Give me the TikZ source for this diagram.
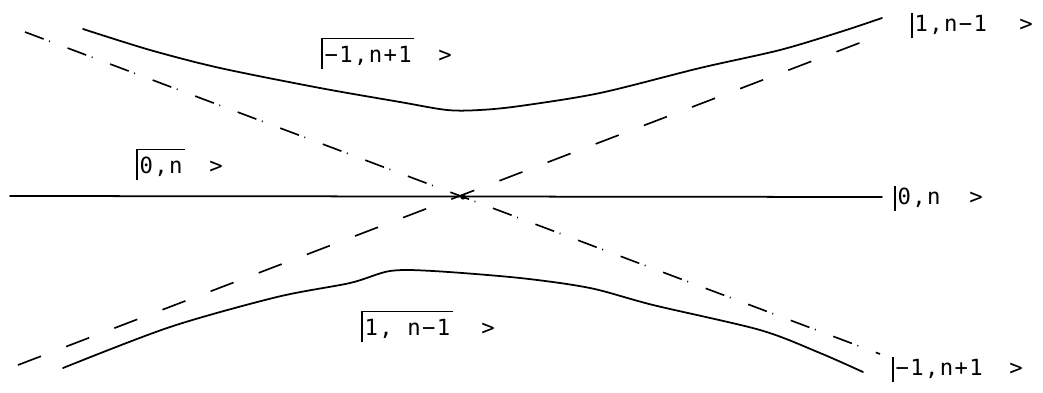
\documentclass[tikz,border=0pt]{standalone}
\usepackage{fontspec}
\newfontfamily\ketfont{DejaVu Sans Mono}[LetterSpace=6]
\tikzset{
  ket/.style={font=\ketfont\fontsize{19}{22}\selectfont, inner xsep=2pt, inner ysep=0pt,
    text height=15pt, text depth=6pt, anchor=base west},
  ketov/.style={ket, text height=20pt},
  closer/.style={font=\ketfont\fontsize{19}{22}\selectfont, inner sep=0pt, anchor=base},
  kbar/.style={line width=1.1pt},
  level/.style={line width=1.5pt, line cap=round},
  diab/.style={line width=1.4pt, dash pattern=on 21pt off 23pt},
  diabdot/.style={line width=1.4pt, dash pattern=on 17pt off 5pt on 0.8pt off 16pt},
}
\begin{document}
\begin{tikzpicture}[x=0.03cm, y=-0.03cm]
    \useasboundingbox (0,0) rectangle (1043,392);
    % Enden der Linien
    \coordinate (hL) at (10,196);
    \coordinate (hR) at (882,197);
    \coordinate (upL) at (18,365);
    \coordinate (upR) at (875,37);
    \coordinate (dnL) at (25,32);
    \coordinate (dnR) at (880,354);
    
    % ungestoerte Niveaus
    \draw[level] (hL) -- (hR);
    \draw[diab] (upL) -- (upR);
    \draw[diabdot] (dnL) -- (dnR);
    \fill (463,197) circle (2.2pt);
    
    % obere Kurve
    \draw[level] plot[smooth, tension=0.5] coordinates {(83,29) (150,50) (220,68) (320,88)
      (400,102) (447,110) (480,110) (520,106) (600,93) (700,68) (780,50) (840,32) (882,18)};
    % untere Kurve
    \draw[level] plot[smooth, tension=0.5] coordinates {(63,368) (170,327)
      (277,297) (350,283) (390,271) (433,271) (520,278) (590,288) (653,305) (760,330)
      (820,353) (863,372)};
    
    % Beschriftung links
    \node[ketov] (kA) at (322,62) {−1,n+1};
    \node[closer] (gA) at (445,62) {>};
    \draw[kbar] (kA.south west) -- (kA.north west) -- (kA.north east);
    \node[ketov] (kB) at (137,173) {0,n};
    \node[closer] (gB) at (216,173) {>};
    \draw[kbar] (kB.south west) -- (kB.north west) -- (kB.north east);
    \node[ketov] (kC) at (362,335) {1, n−1};
    \node[closer] (gC) at (488,335) {>};
    \draw[kbar] (kC.south west) -- (kC.north west) -- (kC.north east);
    
    % Beschriftung rechts
    \node[ket] (kD) at (912,31) {1,n−1};
    \node[closer] (gD) at (1026,31) {>};
    \draw[kbar] (kD.south west) -- (kD.north west);
    \node[ket] (kE) at (895,204) {0,n};
    \node[closer] (gE) at (976,204) {>};
    \draw[kbar] (kE.south west) -- (kE.north west);
    \node[ket] (kF) at (893,375) {−1,n+1};
    \node[closer] (gF) at (1016,375) {>};
    \draw[kbar] (kF.south west) -- (kF.north west);
\end{tikzpicture}
\end{document}
